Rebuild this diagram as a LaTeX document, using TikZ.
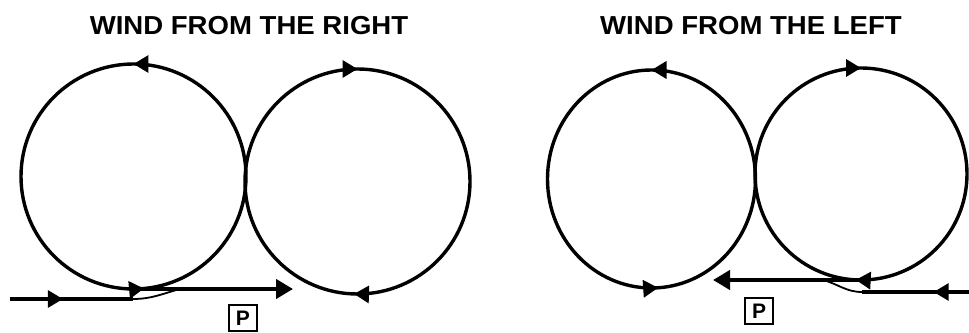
\documentclass[tikz,border=0pt]{standalone}
\usepackage{fontspec}
\setmainfont{Liberation Sans}
\usetikzlibrary{arrows.meta,decorations.markings}
\tikzset{
  tip/.tip={Triangle[length=15pt,width=17pt]},
  bigtip/.tip={Triangle[length=17pt,width=19pt]},
  loopline/.style={line width=3.4pt},
  windline/.style={line width=4.2pt},
  entryline/.style={line width=3.2pt},
  joinline/.style={line width=1.8pt},
  twomarks/.style 2 args={postaction=decorate,decoration={markings,
     mark=at position #1 with {\arrow{tip}},
     mark=at position #2 with {\arrow{tip}}}},
  onemark/.style={postaction=decorate,decoration={markings,
     mark=at position #1 with {\arrow{tip}}}},
  title/.style={font=\bfseries\fontsize{26}{26}\selectfont, anchor=base, inner sep=0pt},
  pbox/.style={draw, line width=2.2pt, minimum width=28pt, minimum height=26pt,
     inner sep=0pt, font=\bfseries\fontsize{21}{21}\selectfont}
}
\begin{document}
\begin{tikzpicture}[x=1pt,y=1pt]
\useasboundingbox (0,0) rectangle (969,332);
% titles
\node[title] (t1) at (249,297) {\scalebox{1.06}[1]{WIND FROM THE RIGHT}};
\node[title] (t2) at (751,297) {\scalebox{1.06}[1]{WIND FROM THE LEFT}};
% ---------- left panel ----------
\coordinate (L1) at (133.5,155.5);
\coordinate (R1) at (357.5,150.5);
\coordinate (L1b) at (133.5,43);
\coordinate (P1end) at (293,43);
\coordinate (E1s) at (10,33);
\coordinate (E1e) at (133,33);
\coordinate (J1) at (180,43);
\draw[loopline,twomarks={0.25}{0.765}] (L1) ++(112.5,0) arc[start angle=0,end angle=360,radius=112.5];
\draw[loopline,twomarks={0.255}{0.75}] (R1) ++(112.5,0) arc[start angle=0,end angle=-360,radius=112.5];
\draw[windline,-bigtip] (L1b) -- (P1end);
\draw[entryline,onemark=0.43] (E1s) -- (E1e);
\draw[joinline] (E1e) to[out=0,in=195] (J1);
\node[pbox] (p1) at (243,14) {P};
% ---------- right panel ----------
\coordinate (L2) at (651.5,153);
\coordinate (R2) at (861,158);
\coordinate (R2b) at (861,52);
\coordinate (P2end) at (713,52);
\coordinate (E2s) at (969,40);
\coordinate (E2e) at (862,40);
\coordinate (J2) at (823,52);
\draw[loopline,twomarks={0.25}{0.76}] (L2) ++(104,0) arc[start angle=0,end angle=360,x radius=104,y radius=109];
\draw[loopline,twomarks={0.258}{0.75}] (R2) ++(106,0) arc[start angle=0,end angle=-360,radius=106];
\draw[windline,-bigtip] (R2b) -- (P2end);
\draw[entryline,onemark=0.33] (E2s) -- (E2e);
\draw[joinline] (E2e) to[out=180,in=-15] (J2);
\node[pbox] (p2) at (759,21) {P};
\end{tikzpicture}
\end{document}
